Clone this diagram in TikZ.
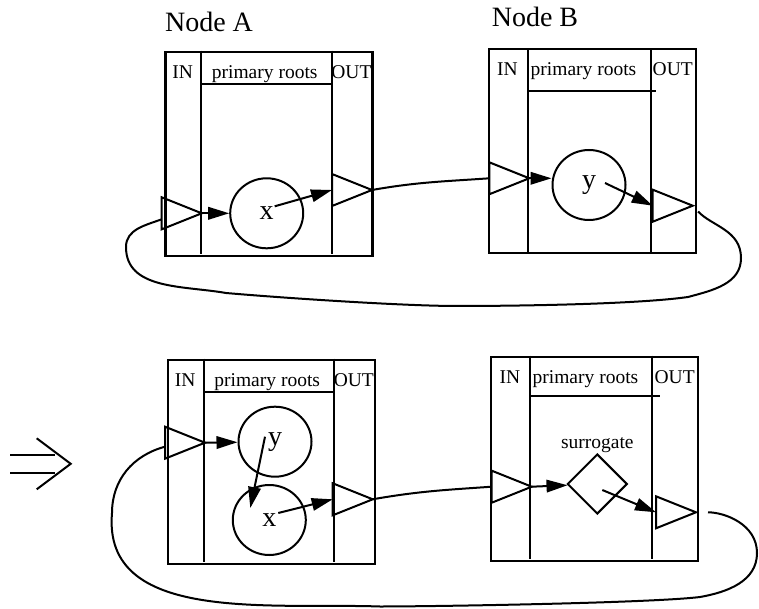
\documentclass[tikz,border=0pt]{standalone}
\usepackage{fontspec}
\setmainfont{Liberation Serif}
\usepackage{tikz}
\usetikzlibrary{shapes.geometric}
\usetikzlibrary{positioning}
\usetikzlibrary{arrows.meta}
\usetikzlibrary{calc}

\tikzset{
	box/.style={draw, line width=2.3pt, minimum width=207pt, minimum height=204pt, inner sep=0pt},
	wall/.style={line width=2pt},
	port/.style={isosceles triangle, isosceles triangle stretches, draw, line width=2pt, inner sep=0pt, outer sep=0pt, minimum width=32pt, minimum height=40pt, anchor=apex},
	blob/.style={ellipse, draw, line width=2pt, minimum width=73pt, minimum height=70pt, inner sep=0pt, font=\fontsize{28}{30}\selectfont},
	lbl/.style={inner sep=0pt, anchor=base, font=\fontsize{19.5}{21}\selectfont},
	title/.style={inner sep=0pt, anchor=base, font=\fontsize{28}{30}\selectfont},
	wire/.style={line width=2pt},
	arr/.style={line width=2pt, -{Triangle[length=21pt,width=12.5pt]}}
}

\begin{document}
\begin{tikzpicture}[x=1pt,y=1pt]
	\useasboundingbox (0,0) rectangle (759,608);

	% the four boxes
	\node[box] (A) at (268.85,454.15) {};
	\node[box] (B) at (592.15,456.7) {};
	\node[box] (A2) at (271.15,146.35) {};
	\node[box] (B2) at (594.5,149.3) {};

	\node[title] (nA) at (209,576.3) {Node A};
	\node[title] (nB) at (535,581.3) {Node B};

	% columns, underline and headings
	\foreach \bx/\din/\dout/\ul/\ulend/\pr in {A/37/167.5/33.7/167.5/10.5, B/40/163.4/43/168.4/3, A2/37.4/167.7/33.3/167.7/10.3, B2/40/162.6/40.6/170/2.6}
	{
		\draw[wall] ([xshift=\din pt]\bx.north west) -- ([xshift=\din pt, yshift=2.5pt]\bx.south west);
		\draw[wall] ([xshift=\dout pt]\bx.north west) -- ([xshift=\dout pt, yshift=2.5pt]\bx.south west);
		\draw[wall] ([xshift=\din pt, yshift=-\ul pt]\bx.north west) -- ([xshift=\ulend pt, yshift=-\ul pt]\bx.north west);
		\node[lbl] (\bx-in) at ([xshift={\din*0.5pt}, yshift=-27.5pt]\bx.north west) {IN};
		\node[lbl, anchor=base west] (\bx-pr) at ([xshift={(\din+\pr)*1pt}, yshift=-27.5pt]\bx.north west) {primary roots};
		\node[lbl] (\bx-out) at ([xshift={(\dout+207)*0.5pt}, yshift=-27.5pt]\bx.north west) {OUT};
	}

	% ports
	\node[port] (pAi) at (201.7,394.7) {};
	\node[port] (pAo) at (372,418) {};
	\node[port] (pBi) at (529.3,429.7) {};
	\node[port] (pBo) at (692.7,402.3) {};
	\node[port] (pA2i) at (205,165.3) {};
	\node[port] (pA2o) at (372.7,108.7) {};
	\node[port] (pB2i) at (531.7,121.3) {};
	\node[port] (pB2o) at (696,95.7) {};

	% objects
	\node[blob] (xA) at (266.7,394.7) {x};
	\node[blob] (yB) at (589,423) {y};
	\node[blob] (yA2) at (275,166.3) {y};
	\node[blob] (xA2) at (269.3,88) {x};
	\node[diamond, draw, line width=2pt, minimum width=60pt, minimum height=60pt, inner sep=0pt] (sB2) at (597.3,124) {};
	\node[lbl, above=0pt of sB2] (sur) {surrogate};

	% references inside the nodes
	\draw[arr] (pAi.apex) -- (xA);
	\draw[arr] ($(xA.center)+(8,7)$) -- (pAo.west);
	\draw[arr] (pBi.apex) -- (pBi.apex -| yB.west);
	\draw[arr] ($(yB.center)+(16,2)$) -- (pBo.west);
	\draw[arr] (pA2i.apex) -- (yA2);
	\draw[arr] ($(yA2.center)+(-10,5)$) -- ($(xA2.center)+(-19,12)$);
	\draw[arr] ($(xA2.center)+(9,7)$) -- (pA2o.west);
	\draw[arr] (pB2i.apex) -- (sB2);
	\draw[arr] ($(sB2.center)+(5,-6)$) -- (pB2o.west);

	% references between the nodes
	\draw[wire] (pAo.apex) to[out=10,in=184] (pBi.west);
	\draw[wire] (pA2o.apex) to[out=10,in=184] (pB2i.west);
	\draw[wire, shorten <=8pt] (pBo.apex) to[out=-47,in=90] (741,350) to[out=-90,in=15] (688,311)
		to[out=188,in=0,looseness=0.6] (457,302) to[out=180,in=-5,looseness=0.6] (226,315)
		to[out=170,in=-90] (126,361) to[out=90,in=200] ([yshift=-6pt]pAi.west);
	\draw[wire, shorten <=12pt] (pB2o.apex) to[out=0,in=90] (757,55) to[out=-90,in=10] (700,11)
		to[out=187,in=0,looseness=0.4] (380,1.5) to[out=178,in=-95] (112,95)
		to[out=90,in=195] ([yshift=-4pt]pA2i.west);

	% the step between the two states
	\draw[wire] (10,153) -- (55,153);
	\draw[wire] (10,135.3) -- (55,135.3);
	\draw[wire] (36.7,169.7) -- (70.7,144.2) -- (36.7,118.7);
\end{tikzpicture}
\end{document}
